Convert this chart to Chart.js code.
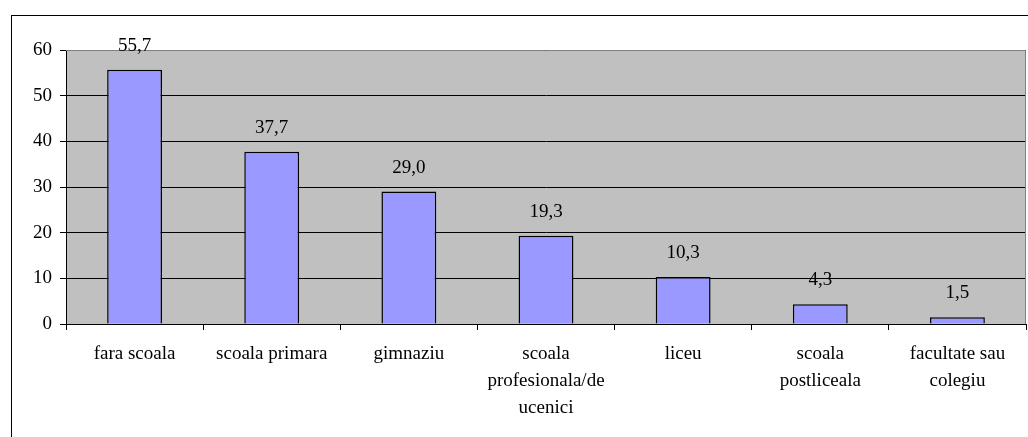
<!DOCTYPE html>
<html>
<head>
<meta charset="utf-8">
<script src="https://cdn.jsdelivr.net/npm/chart.js@4.4.1/dist/chart.umd.min.js"></script>
<style>
  html, body { margin: 0; padding: 0; background: #fff; }
  #wrap { width: 1028px; height: 437px; }
</style>
</head>
<body>
<div id="wrap"><canvas id="myChart" width="1028" height="437"></canvas></div>
<script>
const categories = [
  'fara scoala',
  'scoala primara',
  'gimnaziu',
  ['scoala', 'profesionala/de', 'ucenici'],
  'liceu',
  ['scoala', 'postliceala'],
  ['facultate sau', 'colegiu']
];
const values = [55.7, 37.7, 29.0, 19.3, 10.3, 4.3, 1.5];
const yTicks = [0, 10, 20, 30, 40, 50, 60];

const font = { family: '"Liberation Serif", "Times New Roman", serif', size: 19 };

// gray plot area + outer frame
const frame = {
  id: 'frame',
  beforeDraw(chart) {
    const { ctx, chartArea: a } = chart;
    ctx.save();
    ctx.fillStyle = '#fff';
    ctx.fillRect(0, 0, chart.width, chart.height);
    ctx.strokeStyle = '#000';
    ctx.lineWidth = 1;
    ctx.strokeRect(11.5, 15.5, chart.width + 10, chart.height + 10);
    ctx.fillStyle = '#c0c0c0';
    ctx.fillRect(a.left, a.top, a.right - a.left, a.bottom - a.top);
    ctx.restore();
  },
  afterDatasetsDraw(chart) {
    const { ctx, chartArea: a } = chart;
    ctx.save();
    ctx.strokeStyle = '#808080';
    ctx.lineWidth = 1;
    ctx.beginPath();
    ctx.moveTo(a.left, a.top + 0.5);
    ctx.lineTo(a.right - 0.5, a.top + 0.5);
    ctx.lineTo(a.right - 0.5, a.bottom);
    ctx.stroke();
    // value labels
    ctx.fillStyle = '#000';
    ctx.font = font.size + 'px ' + font.family;
    ctx.textAlign = 'center';
    ctx.textBaseline = 'middle';
    chart.getDatasetMeta(0).data.forEach((bar, i) => {
      ctx.fillText(values[i].toFixed(1).replace('.', ','), bar.x, bar.y - 24);
    });
    ctx.restore();
  }
};

new Chart(document.getElementById('myChart'), {
  type: 'bar',
  data: {
    labels: categories,
    datasets: [{
      data: values,
      backgroundColor: '#9999ff',
      borderColor: '#000',
      borderWidth: 1.5,
      barPercentage: 0.4,
      categoryPercentage: 1
    }]
  },
  options: {
    responsive: false,
    animation: false,
    layout: { padding: { left: 0, top: 50, right: 2, bottom: 0 } },
    plugins: { legend: { display: false }, tooltip: { enabled: false } },
    scales: {
      x: {
        offset: true,
        grid: { offset: true, drawOnChartArea: false, color: '#000', tickLength: 6 },
        border: { color: '#000' },
        ticks: { color: '#000', font: { ...font, lineHeight: 1.42 }, padding: 11, maxRotation: 0, autoSkip: false },
        afterFit(scale) { scale.height = 113; }
      },
      y: {
        min: 0,
        max: 60,
        afterBuildTicks(scale) { scale.ticks = yTicks.map(v => ({ value: v })); },
        grid: { color: '#000', tickLength: 6 },
        border: { color: '#000' },
        ticks: { color: '#000', font, padding: 8 },
        afterFit(scale) { scale.width = 66; }
      }
    }
  },
  plugins: [frame]
});
</script>
</body>
</html>
